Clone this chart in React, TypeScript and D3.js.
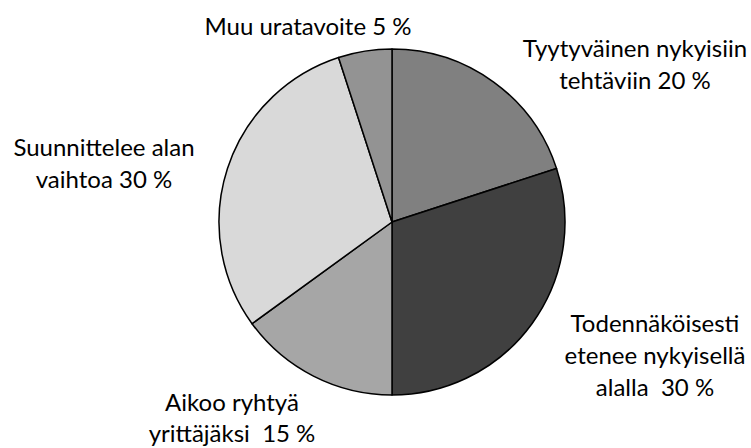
import React, { useEffect, useRef } from "react";
import * as d3 from "d3";

const categories = [
  "Tyytyväinen nykyisiin tehtäviin",
  "Todennäköisesti etenee nykyisellä alalla",
  "Aikoo ryhtyä yrittäjäksi",
  "Suunnittelee alan vaihtoa",
  "Muu uratavoite",
];
const values = [20, 30, 15, 30, 5];
const fills = ["#808080", "#404040", "#a6a6a6", "#d9d9d9", "#939393"];
// label lines as they are wrapped in the picture
const labelLines = [
  ["Tyytyväinen nykyisiin", "tehtäviin 20 %"],
  ["Todennäköisesti", "etenee nykyisellä", "alalla  30 %"],
  ["Aikoo ryhtyä", "yrittäjäksi  15 %"],
  ["Suunnittelee alan", "vaihtoa 30 %"],
  ["Muu uratavoite 5 %"],
];
// label anchor: centre x, first baseline y, line gap
const labelAnchors: [number, number, number][] = [
  [635, 57, 32],
  [655, 332, 32],
  [232, 411, 31],
  [104, 156, 32],
  [308, 35, 32],
];

const W = 751, H = 448;
const cx = 392, cy = 222, r = 173;

const App = () => {
  const ref = useRef<SVGSVGElement>(null);

  useEffect(() => {
    const svg = d3.select(ref.current);
    svg.selectAll("*").remove();

    const pie = d3.pie<number>().sort(null).value(d => d);
    const arc = d3.arc<d3.PieArcDatum<number>>().innerRadius(0).outerRadius(r);

    const g = svg.append("g").attr("transform", `translate(${cx},${cy})`);
    g.selectAll("path")
      .data(pie(values))
      .join("path")
      .attr("d", arc)
      .attr("fill", (d, i) => fills[i])
      .attr("stroke", "#000")
      .attr("stroke-width", 1.5)
      .attr("stroke-linejoin", "round");

    const lab = svg.append("g")
      .style("font-family", "Lato, 'Open Sans', sans-serif")
      .style("font-size", "24px")
      .attr("fill", "#000")
      .attr("text-anchor", "middle");

    categories.forEach((c, i) => {
      const [x, y, gap] = labelAnchors[i];
      const t = lab.append("text").attr("data-cat", c);
      labelLines[i].forEach((line, j) => {
        t.append("tspan")
          .attr("x", x)
          .attr("y", y + j * gap)
          .style("white-space", "pre")
          .text(line);
      });
    });
  }, []);

  return (
    <svg ref={ref} width={W} height={H} style={{ position: "absolute", left: 0, top: 0, background: "#fff" }} />
  );
};

export default App;
